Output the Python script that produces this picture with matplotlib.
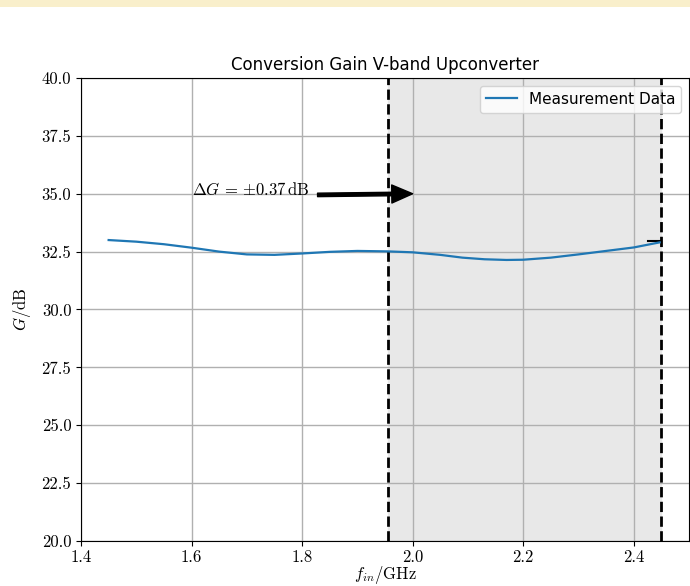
import matplotlib
matplotlib.use("Agg")
import matplotlib.pyplot as plt
from matplotlib.patches import Rectangle

# Conversion gain of the V-band upconverter
freq_ghz = [1.45, 1.50, 1.55, 1.60, 1.65, 1.70, 1.75, 1.80, 1.85, 1.90,
            1.955, 2.00, 2.05, 2.09, 2.13, 2.17, 2.20, 2.25, 2.30, 2.35, 2.40, 2.447]
gain_db = [33.00, 32.93, 32.82, 32.67, 32.50, 32.38, 32.36, 32.42, 32.49, 32.53,
           32.51, 32.47, 32.36, 32.24, 32.17, 32.14, 32.15, 32.24, 32.38, 32.53, 32.68, 32.90]

band_edges = [1.955, 2.45]
arrow_tail = (1.828, 34.95)
arrow_tip = (2.0, 35.0)
label_pos = (1.6, 34.95)
label_text = r"$\Delta G \,=\, {\pm}0.37\,\mathrm{dB}$"
marker_x = [2.425, 2.45]
marker_y = [32.95, 32.95]

plt.rcParams["font.family"] = "serif"
plt.rcParams["font.serif"] = ["cmr10"]
plt.rcParams["mathtext.fontset"] = "cm"
plt.rcParams["axes.formatter.use_mathtext"] = True
plt.rcParams["font.size"] = 12

fig = plt.figure(figsize=(6.9, 5.86), dpi=100)
ax = fig.add_axes([81 / 690, 1 - 541 / 586, 608 / 690, 463 / 586])

# pale banner strip along the top edge
fig.patches.append(Rectangle((0, 1 - 7 / 586), 1, 7 / 586, transform=fig.transFigure,
                             facecolor="#f9efcb", edgecolor="none", zorder=0))

ax.axvspan(band_edges[0], band_edges[1], color="#e8e8e8", zorder=1)
for x in band_edges:
    ax.axvline(x, color="black", linestyle="--", linewidth=2, zorder=3)

ax.plot(freq_ghz, gain_db, color="#1f77b4", linewidth=1.6, label="Measurement Data", zorder=4)
ax.plot(marker_x, marker_y, color="black", linewidth=1.5, zorder=3)

ax.text(label_pos[0], label_pos[1], label_text, fontsize=12, va="baseline", ha="left")
ax.annotate("", xy=arrow_tip, xytext=arrow_tail,
            arrowprops=dict(facecolor="black", edgecolor="black", width=2.5,
                            headwidth=13, headlength=15, shrink=0))

ax.set_xlim(1.4, 2.5)
ax.set_ylim(20, 40)
ax.set_xticks([1.4, 1.6, 1.8, 2.0, 2.2, 2.4])
ax.set_yticks([20, 22.5, 25, 27.5, 30, 32.5, 35, 37.5, 40])
ax.xaxis.set_major_formatter(matplotlib.ticker.FormatStrFormatter("%.1f"))
ax.yaxis.set_major_formatter(matplotlib.ticker.FormatStrFormatter("%.1f"))
ax.tick_params(axis="x", pad=2.5)
ax.grid(True, color="#b0b0b0", linewidth=1)

ax.set_xlabel(r"$f_{in}/\mathrm{GHz}$", fontsize=12, labelpad=-0.5)
ax.set_ylabel(r"$G/\mathrm{dB}$", fontsize=12, labelpad=6)
ax.set_title("Conversion Gain V-band Upconverter", fontsize=12, family="DejaVu Sans")
ax.legend(loc="upper right", prop={"family": "DejaVu Sans", "size": 11})

fig.savefig("out.png", dpi=100)
